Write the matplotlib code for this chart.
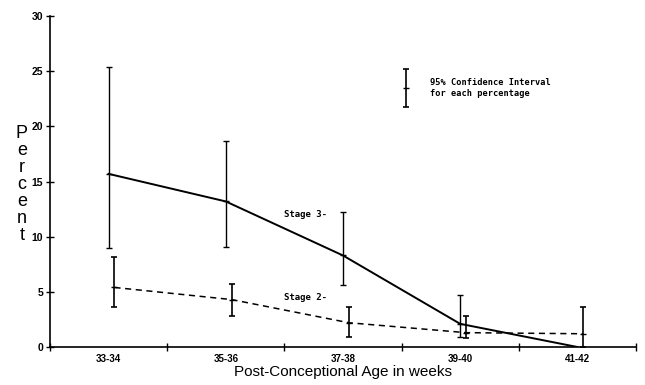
import matplotlib.pyplot as plt
import numpy as np

# data
age_groups = ['33-34', '35-36', '37-38', '39-40', '41-42']
stage3 = [15.7, 13.2, 8.3, 2.1, 0.0]
stage3_lo = [9.0, 9.1, 5.6, 0.9, 0.0]
stage3_hi = [25.4, 18.7, 12.2, 4.7, 0.0]
stage2 = [5.4, 4.3, 2.2, 1.3, 1.2]
stage2_lo = [3.6, 2.8, 0.9, 0.8, 0.0]
stage2_hi = [8.2, 5.7, 3.6, 2.8, 3.6]

plt.rcParams['font.family'] = ['Liberation Sans', 'DejaVu Sans']

fig = plt.figure(figsize=(6.45, 3.85), dpi=100)
ax = fig.add_axes([0.0775, 0.0987, 0.9085, 0.8593])

x = np.arange(len(age_groups)) + 0.5
s3 = np.array(stage3)
s2 = np.array(stage2)

# Stage 3 - solid line
ax.plot(x, s3, color='black', lw=1.4)
ax.errorbar(x[:4], s3[:4],
            yerr=[s3[:4] - np.array(stage3_lo[:4]), np.array(stage3_hi[:4]) - s3[:4]],
            fmt='none', ecolor='black', elinewidth=1.0, capsize=2.5, capthick=1.0)
ax.plot(x[:4], s3[:4], ls='none', marker='_', ms=5, color='black', mew=1)

# Stage 2 - dashed line, slightly shifted
x2 = x + 0.05
ax.plot(x2, s2, color='black', lw=1.1, ls=(0, (4, 3)))
ax.errorbar(x2, s2,
            yerr=[s2 - np.array(stage2_lo), np.array(stage2_hi) - s2],
            fmt='none', ecolor='black', elinewidth=1.2, capsize=2.5, capthick=1.2)
ax.plot(x2, s2, ls='none', marker='_', ms=5, color='black', mew=1)

ax.text(2.0, 12.0, 'Stage 3-', fontsize=6.5, fontweight='bold', family='DejaVu Sans Mono',
        va='center')
ax.text(2.0, 4.5, 'Stage 2-', fontsize=6.5, fontweight='bold', family='DejaVu Sans Mono',
        va='center')

# legend-like note for the confidence interval
ax.errorbar([3.04], [23.5], yerr=[[1.7], [1.7]], fmt='none', ecolor='black',
            elinewidth=1.2, capsize=2.5, capthick=1.2)
ax.plot([3.04], [23.5], marker='_', ms=5, color='black', mew=1)
ax.text(3.24, 23.5, '95% Confidence Interval\nfor each percentage', fontsize=6.2,
        fontweight='bold', family='DejaVu Sans Mono', va='center', linespacing=1.2)

ax.set_xlim(0, 5)
ax.set_ylim(0, 30)
ax.set_xticks(np.arange(0, 6))
ax.set_xticklabels([])
ax.set_xticks(x, minor=True)
ax.set_xticklabels(age_groups, minor=True, fontsize=7, fontweight='bold')
ax.tick_params(axis='x', which='minor', length=0, pad=5)
ax.tick_params(axis='x', which='major', direction='inout', length=6, width=1)
ax.set_yticks(np.arange(0, 31, 5))
ax.tick_params(axis='y', direction='inout', length=6, width=1, labelsize=7.5, pad=2)
for lab in ax.get_yticklabels():
    lab.set_fontweight('bold')

for side in ['top', 'right']:
    ax.spines[side].set_visible(False)
ax.spines['left'].set_linewidth(1.2)
ax.spines['bottom'].set_linewidth(1.2)

ax.set_xlabel('Post-Conceptional Age in weeks', fontsize=11, labelpad=1)
fig.text(0.034, 0.52, '\n'.join('Percent'), fontsize=13, ha='center', va='center',
         linespacing=1.0)

fig.savefig('out.png', dpi=100)
